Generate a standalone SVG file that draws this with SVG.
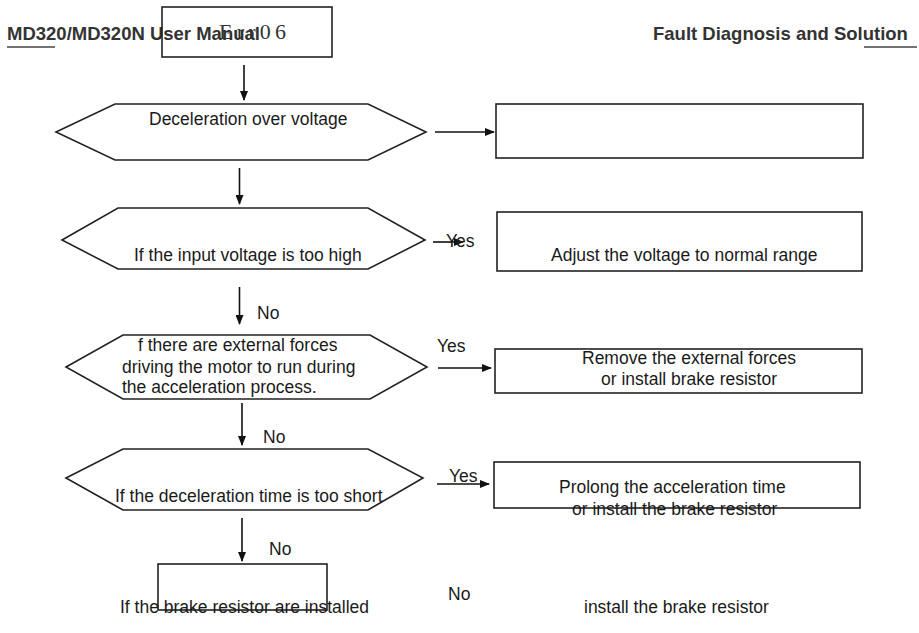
<svg xmlns="http://www.w3.org/2000/svg" width="919" height="633" viewBox="0 0 919 633">
<defs>
<marker id="ah" markerWidth="10" markerHeight="8" refX="9" refY="4" orient="auto" markerUnits="userSpaceOnUse">
<path d="M0,0 L10,4 L0,8 Z" fill="#111"/>
</marker>
<style>
.shape{fill:#fff;stroke:#222;stroke-width:1.6}
.t{font-family:"Liberation Sans",Arial,sans-serif;font-size:17.5px;fill:#1a1a1a}
.h{font-family:"Liberation Sans",Arial,sans-serif;font-size:18.5px;font-weight:bold;fill:#333}
.c{stroke:#111;stroke-width:1.6;fill:none;marker-end:url(#ah)}
.ul{stroke:#444;stroke-width:1.5}
</style>
</defs>
<rect width="919" height="633" fill="#fff"/>
<g id="header">
<text class="h" x="7" y="40">MD320/MD320N User Manual</text>
<line class="ul" x1="7" y1="47" x2="55" y2="47"/>
<text class="h" x="653" y="40">Fault Diagnosis and Solution</text>
<line class="ul" x1="864" y1="47" x2="917" y2="47"/>
</g>
<g id="n-err">
<rect class="shape" x="162" y="7" width="170" height="50" style="fill:none"/>
<text x="219" y="39" font-family="'Liberation Serif','Times New Roman',serif" font-size="22" fill="#333" textLength="67" lengthAdjust="spacing">Err06</text>
</g>
<g id="n-dec">
<polygon class="shape" points="56,132 115,104 368,104 426,132 368,160 115,160"/>
<text class="t" x="149" y="125">Deceleration over voltage</text>
</g>
<g id="n-empty">
<rect class="shape" x="496" y="104" width="367" height="54"/>
</g>
<g id="n-input">
<polygon class="shape" points="62,240 118,208 368,208 425,240 368,269 118,269"/>
<text class="t" x="134" y="261">If the input voltage is too high</text>
</g>
<g id="n-adjust">
<rect class="shape" x="497" y="212" width="365" height="59"/>
<text class="t" x="551" y="261">Adjust the voltage to normal range</text>
</g>
<g id="n-ext">
<polygon class="shape" points="66,367 123,335 370,335 427,367 370,399 123,399"/>
<text class="t" x="138" y="351">f there are external forces</text>
<text class="t" x="122" y="373">driving the motor to run during</text>
<text class="t" x="122" y="393">the acceleration process.</text>
</g>
<g id="n-remove">
<rect class="shape" x="495" y="349" width="367" height="44"/>
<text class="t" x="582" y="364">Remove the external forces</text>
<text class="t" x="601" y="385">or install brake resistor</text>
</g>
<g id="n-time">
<polygon class="shape" points="66,478 123,449 368,449 423,478 368,510 123,510"/>
<text class="t" x="115" y="502">If the deceleration time is too short</text>
</g>
<g id="n-prolong">
<rect class="shape" x="494" y="462" width="366" height="46"/>
<text class="t" x="559" y="493">Prolong the acceleration time</text>
<text class="t" x="572" y="515">or install the brake resistor</text>
</g>
<g id="n-brake">
<rect class="shape" x="158" y="564" width="169" height="46"/>
<text class="t" x="120" y="613">If the brake resistor are installed</text>
</g>
<g id="n-install">
<text class="t" x="584" y="613">install the brake resistor</text>
</g>
<g id="connectors">
<line class="c" x1="244" y1="65" x2="244" y2="100"/>
<line class="c" x1="435" y1="132" x2="494" y2="132"/>
<line class="c" x1="239.5" y1="168" x2="239.5" y2="204"/>
<line class="c" x1="433" y1="242" x2="463" y2="242"/>
<text class="t" x="446" y="247">Yes</text>
<line class="c" x1="239.5" y1="287" x2="239.5" y2="324"/>
<text class="t" x="257" y="319">No</text>
<text class="t" x="437" y="352">Yes</text>
<line class="c" x1="438" y1="368" x2="491" y2="368"/>
<line class="c" x1="242" y1="403" x2="242" y2="445"/>
<text class="t" x="263" y="443">No</text>
<text class="t" x="449" y="482">Yes</text>
<line class="c" x1="437" y1="484" x2="489" y2="484"/>
<line class="c" x1="242" y1="518" x2="242" y2="561"/>
<text class="t" x="269" y="555">No</text>
<text class="t" x="448" y="600">No</text>
</g>
</svg>
